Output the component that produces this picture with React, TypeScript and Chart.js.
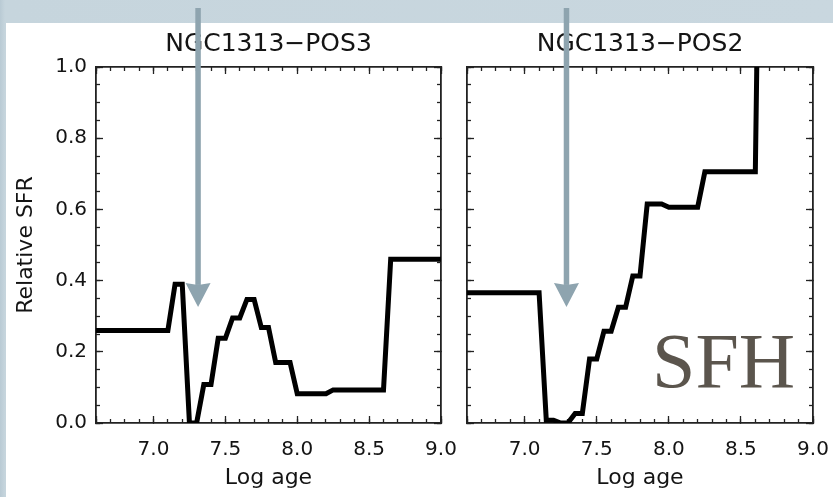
import React, { useEffect, useRef } from "react";
import { Chart, registerables } from "chart.js";

Chart.register(...registerables);

// ---------- data ----------
const LOG_AGE_POS3 = [6.6, 7.1, 7.15, 7.2, 7.25, 7.3, 7.35, 7.4, 7.45, 7.5, 7.55, 7.6, 7.65, 7.7, 7.75, 7.8, 7.85, 7.95, 8.0, 8.2, 8.25, 8.6, 8.65, 9.0];
const SFR_POS3 = [0.26, 0.26, 0.39, 0.39, 0.0, 0.0, 0.108, 0.108, 0.238, 0.238, 0.295, 0.295, 0.347, 0.347, 0.268, 0.268, 0.17, 0.17, 0.082, 0.082, 0.093, 0.093, 0.46, 0.46];

const LOG_AGE_POS2 = [6.6, 7.1, 7.15, 7.2, 7.25, 7.3, 7.35, 7.4, 7.45, 7.5, 7.55, 7.6, 7.65, 7.7, 7.75, 7.8, 7.85, 7.95, 8.0, 8.2, 8.25, 8.6, 8.61];
const SFR_POS2 = [0.366, 0.366, 0.008, 0.008, 0.0, 0.0, 0.027, 0.027, 0.18, 0.18, 0.258, 0.258, 0.325, 0.325, 0.413, 0.413, 0.615, 0.615, 0.606, 0.606, 0.706, 0.706, 1.0];

const X_MIN = 6.6;
const X_MAX = 9.0;
const Y_MIN = 0;
const Y_MAX = 1.0;
const X_MAJOR_STEP = 0.5;
const X_MINOR_STEP = 0.1;
const Y_MAJOR_STEP = 0.2;
const Y_MINOR_STEP = 0.05;

const TITLE_POS3 = "NGC1313\u2212POS3";
const TITLE_POS2 = "NGC1313\u2212POS2";
const X_TITLE = "Log age";
const Y_TITLE = "Relative SFR";
const STAMP_TEXT = "SFH";

const ARROW_AGE_POS3 = 7.31;
const ARROW_AGE_POS2 = 7.29;
const ARROW_TIP_SFR = 0.326;

// ---------- style ----------
const FONT = "'DejaVu Sans', sans-serif";
const INK = "#141414";
const AXIS_COLOR = "#222222";
const ARROW_COLOR = "#8ea4af";
const MAJOR_TICK = 7;
const MINOR_TICK = 4;

const fixSize = (size: number) => (scale: any) => {
  if (scale.isHorizontal()) scale.height = size;
  else scale.width = size;
  scale.paddingLeft = 0;
  scale.paddingRight = 0;
  scale.paddingTop = 0;
  scale.paddingBottom = 0;
};

const isMultiple = (v: number, step: number) => Math.abs(v / step - Math.round(v / step)) < 1e-6;

function axis(o: {
  axis: "x" | "y";
  position: string;
  step: number;
  major: boolean;
  size: number;
  labels?: boolean;
  labelPadding?: number;
  title?: any;
}) {
  const isX = o.axis === "x";
  return {
    type: "linear",
    axis: o.axis,
    position: o.position,
    weight: o.major ? 1 : 0,
    min: isX ? X_MIN : Y_MIN,
    max: isX ? X_MAX : Y_MAX,
    afterFit: fixSize(o.size),
    border: { display: o.major, color: AXIS_COLOR, width: 1.8 },
    grid: {
      display: true,
      drawOnChartArea: false,
      drawTicks: true,
      tickLength: o.major ? -MAJOR_TICK : -MINOR_TICK,
      color: AXIS_COLOR,
      tickColor: AXIS_COLOR,
      tickWidth: 1.3,
      lineWidth: 1,
    },
    ticks: {
      stepSize: o.step,
      maxTicksLimit: 200,
      autoSkip: false,
      maxRotation: 0,
      minRotation: 0,
      font: { family: FONT, size: 20 },
      color: INK,
      padding: o.labelPadding ?? 0,
      callback: (value: any) => {
        const v = Number(value);
        if (!o.labels) return "";
        return isMultiple(v, o.step) && !(isX && Math.abs(v - X_MIN) < 1e-6) ? v.toFixed(1) : "";
      },
    },
    title: o.title ?? { display: false },
  };
}

const arrowPlugin = {
  id: "arrow",
  afterDraw(chart: any, _args: any, opts: any) {
    const { ctx } = chart;
    const x = chart.scales.x.getPixelForValue(opts.age);
    const tipY = chart.scales.y.getPixelForValue(opts.tip);
    const headH = 24;
    const headW = 25;
    const shaftW = 5.5;
    ctx.save();
    ctx.fillStyle = ARROW_COLOR;
    ctx.fillRect(x - shaftW / 2, opts.top, shaftW, tipY - headH - opts.top + 2);
    ctx.beginPath();
    ctx.moveTo(x - headW / 2, tipY - headH);
    ctx.lineTo(x, tipY - headH + 2);
    ctx.lineTo(x + headW / 2, tipY - headH);
    ctx.lineTo(x, tipY);
    ctx.closePath();
    ctx.fill();
    ctx.restore();
  },
};

function makeChart(
  canvas: HTMLCanvasElement,
  p: { title: string; xs: number[]; ys: number[]; first: boolean; arrowAge: number; padLeft: number; padRight: number }
) {
  const scales: any = {
    x: axis({
      axis: "x",
      position: "bottom",
      step: X_MAJOR_STEP,
      major: true,
      size: 74,
      labels: true,
      labelPadding: 22,
      title: {
        display: true,
        text: X_TITLE,
        color: INK,
        font: { family: FONT, size: 22 },
        padding: { top: 0, bottom: 6 },
      },
    }),
    y: axis({
      axis: "y",
      position: "left",
      step: Y_MAJOR_STEP,
      major: true,
      size: p.first ? 96 : 0,
      labels: p.first,
      labelPadding: 16,
      title: p.first
        ? {
            display: true,
            text: Y_TITLE,
            color: INK,
            font: { family: FONT, size: 22 },
            padding: { top: 13, bottom: 0 },
          }
        : { display: false },
    }),
    xMinor: axis({ axis: "x", position: "bottom", step: X_MINOR_STEP, major: false, size: 0 }),
    xTop: axis({ axis: "x", position: "top", step: X_MAJOR_STEP, major: true, size: 0 }),
    xTopMinor: axis({ axis: "x", position: "top", step: X_MINOR_STEP, major: false, size: 0 }),
    yMinor: axis({ axis: "y", position: "left", step: Y_MINOR_STEP, major: false, size: 0 }),
    yRight: axis({ axis: "y", position: "right", step: Y_MAJOR_STEP, major: true, size: 0 }),
    yRightMinor: axis({ axis: "y", position: "right", step: Y_MINOR_STEP, major: false, size: 0 }),
  };

  return new Chart(canvas, {
    type: "line",
    data: {
      datasets: [
        {
          label: p.title,
          data: p.xs.map((x, i) => ({ x, y: p.ys[i] })),
          xAxisID: "x",
          yAxisID: "y",
          borderColor: "#000000",
          borderWidth: 5,
          borderJoinStyle: "miter",
          pointRadius: 0,
          tension: 0,
          fill: false,
        },
      ],
    },
    options: {
      responsive: false,
      animation: false,
      devicePixelRatio: 1,
      layout: { padding: { left: p.padLeft, right: p.padRight, top: 0, bottom: 0 } },
      scales,
      plugins: {
        legend: { display: false },
        tooltip: { enabled: false },
        title: {
          display: true,
          text: p.title,
          fullSize: false,
          color: INK,
          font: { family: FONT, size: 25, weight: "normal" },
          padding: { top: 29.5, bottom: 7.5 },
        },
        arrow: { age: p.arrowAge, tip: ARROW_TIP_SFR, top: 8 },
      } as any,
    } as any,
    plugins: [arrowPlugin as any],
  } as any);
}

export default function App() {
  const leftRef = useRef<HTMLCanvasElement | null>(null);
  const rightRef = useRef<HTMLCanvasElement | null>(null);

  useEffect(() => {
    const a = makeChart(leftRef.current!, {
      title: TITLE_POS3,
      xs: LOG_AGE_POS3,
      ys: SFR_POS3,
      first: true,
      arrowAge: ARROW_AGE_POS3,
      padLeft: 0,
      padRight: 24,
    });
    const b = makeChart(rightRef.current!, {
      title: TITLE_POS2,
      xs: LOG_AGE_POS2,
      ys: SFR_POS2,
      first: false,
      arrowAge: ARROW_AGE_POS2,
      padLeft: 17,
      padRight: 20,
    });
    return () => {
      a.destroy();
      b.destroy();
    };
  }, []);

  return (
    <div
      style={{
        position: "fixed",
        left: 0,
        top: 0,
        width: 833,
        height: 497,
        overflow: "hidden",
        background: "linear-gradient(90deg, #b9cad4 0px, #c6d5dd 5px, #c9d7df 100%)",
      }}
    >
      <div style={{ position: "absolute", left: 6, top: 23, right: 0, bottom: 0, background: "#ffffff" }} />
      <canvas ref={leftRef} width={465} height={497} style={{ position: "absolute", left: 0, top: 0 }} />
      <canvas ref={rightRef} width={383} height={497} style={{ position: "absolute", left: 450, top: 0 }} />
      <div
        style={{
          position: "absolute",
          left: 652,
          top: 322,
          fontFamily: "'Liberation Serif', serif",
          fontSize: 78,
          lineHeight: "78px",
          color: "#5b554d",
          whiteSpace: "nowrap",
        }}
      >
        {STAMP_TEXT}
      </div>
    </div>
  );
}
